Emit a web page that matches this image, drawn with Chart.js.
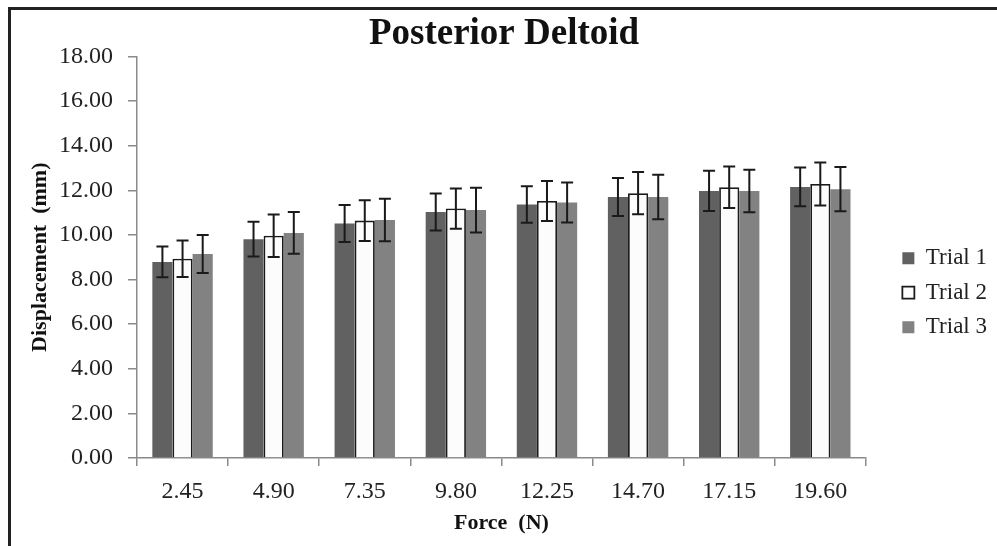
<html><head><meta charset="utf-8">
<script src="https://cdn.jsdelivr.net/npm/chart.js@4.4.1/dist/chart.umd.min.js"></script>
<style>
 body { margin:0; background:#fff; }
 #frame { position:absolute; left:8px; top:7px; width:989px; height:539px; box-sizing:border-box;
          border-top:3px solid #222; border-left:3px solid #222; }
</style>
</head>
<body>
<div id="frame"><canvas id="myChart" width="986" height="536"></canvas></div>
<script>
// values
var forces = ['2.45', '4.90', '7.35', '9.80', '12.25', '14.70', '17.15', '19.60'];
var trial1 = [8.79, 9.81, 10.51, 11.03, 11.36, 11.70, 11.97, 12.15];
var trial2 = [8.93, 9.96, 10.64, 11.18, 11.52, 11.87, 12.14, 12.28];
var trial3 = [9.14, 10.09, 10.67, 11.11, 11.45, 11.70, 11.97, 12.05];
var err1 = [0.69, 0.78, 0.83, 0.83, 0.82, 0.85, 0.90, 0.87];
var err2 = [0.82, 0.95, 0.91, 0.90, 0.90, 0.95, 0.93, 0.96];
var err3 = [0.85, 0.94, 0.95, 1.00, 0.90, 1.00, 0.95, 0.99];
var yTicks = [0, 2, 4, 6, 8, 10, 12, 14, 16, 18];

var serif = "'Liberation Serif', 'Times New Roman', serif";

// draws the +/- error bars on each bar
var errorBars = {
  id: 'errorBars',
  afterDatasetsDraw: function(chart) {
    var ctx = chart.ctx, y = chart.scales.y;
    ctx.save();
    ctx.strokeStyle = '#1a1a1a';
    ctx.lineWidth = 2;
    chart.data.datasets.forEach(function(ds, i) {
      var meta = chart.getDatasetMeta(i);
      meta.data.forEach(function(bar, j) {
        var v = ds.data[j], e = ds.errors[j];
        var top = y.getPixelForValue(v + e), bot = y.getPixelForValue(v - e);
        var x = bar.x, w = 6;
        ctx.beginPath();
        ctx.moveTo(x, top); ctx.lineTo(x, bot);
        ctx.moveTo(x - w, top); ctx.lineTo(x + w, top);
        ctx.moveTo(x - w, bot); ctx.lineTo(x + w, bot);
        ctx.stroke();
      });
    });
    ctx.restore();
  }
};

var ctx = document.getElementById('myChart');
var myChart = new Chart(ctx, {
  type: 'bar',
  data: {
    labels: forces,
    datasets: [
      { label: 'Trial 1', data: trial1, errors: err1, backgroundColor: '#616161', borderWidth: 0 },
      { label: 'Trial 2', data: trial2, errors: err2, backgroundColor: '#fcfcfc', borderColor: '#1a1a1a', borderWidth: 1.8 },
      { label: 'Trial 3', data: trial3, errors: err3, backgroundColor: '#828282', borderWidth: 0 }
    ]
  },
  options: {
    responsive: false,
    animation: false,
    categoryPercentage: 0.663,
    barPercentage: 1,
    layout: { padding: 0 },
    plugins: {
      title: {
        display: true, text: 'Posterior Deltoid', color: '#111',
        font: { family: serif, size: 37, weight: 'bold' },
        padding: { top: 2, bottom: 0 }
      },
      legend: {
        position: 'right',
        title: { display: true, text: '', font: { size: 12 }, padding: { top: 0, bottom: 15 } },
        labels: {
          color: '#222', font: { family: serif, size: 23 },
          boxWidth: 12, boxHeight: 12, padding: 11.5
        }
      },
      tooltip: { enabled: false }
    },
    scales: {
      x: {
        grid: { display: true, drawOnChartArea: false, drawTicks: true, tickLength: 8, color: '#8a8a8a', lineWidth: 1.5 },
        border: { display: true, color: '#8a8a8a', width: 1.5 },
        ticks: { color: '#222', font: { family: serif, size: 24 }, padding: 11, maxRotation: 0 },
        title: { display: true, text: 'Force  (N)', color: '#111',
                 font: { family: serif, size: 22, weight: 'bold' }, padding: { top: 0, bottom: 9 } },
        afterFit: function(s) { s.height = 88; }
      },
      y: {
        min: 0, max: 18,
        afterBuildTicks: function(s) { s.ticks = yTicks.map(function(v) { return { value: v }; }); },
        grid: { display: true, drawOnChartArea: false, drawTicks: true, tickLength: 9, color: '#8a8a8a', lineWidth: 1.5 },
        border: { display: true, color: '#8a8a8a', width: 1.5 },
        ticks: { color: '#222', font: { family: serif, size: 24 }, padding: 15,
                 callback: function(v) { return Number(v).toFixed(2); } },
        title: { display: true, text: 'Displacement  (mm)', color: '#111',
                 font: { family: serif, size: 22, weight: 'bold' }, padding: { top: 16, bottom: 0 } },
        afterFit: function(s) { s.width = 126; }
      },
      gap: {
        position: 'right', display: true,
        grid: { display: false }, border: { display: false }, ticks: { display: false },
        afterFit: function(s) { s.width = 25; }
      }
    }
  },
  plugins: [errorBars]
});
</script>
</body></html>
